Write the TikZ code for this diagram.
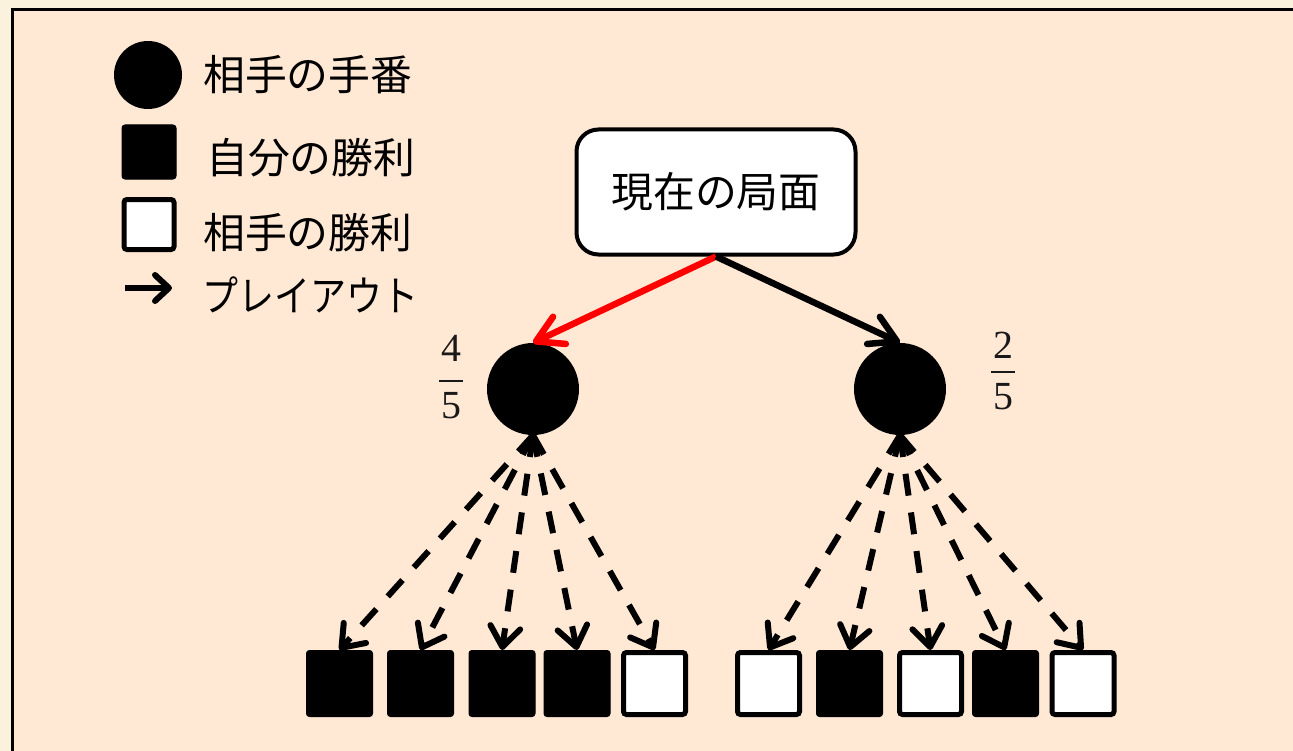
\documentclass[tikz,border=0pt]{standalone}
\usepackage{fontspec}
\usepackage{graphicx}
\newfontfamily\jp{Noto Sans CJK JP}
\newfontfamily\numfont{Liberation Serif}
\usetikzlibrary{arrows.meta}
\definecolor{bgout}{RGB}{251,242,222}
\definecolor{bgin}{RGB}{255,232,212}
\definecolor{arrred}{RGB}{255,0,0}
\tikzset{
  jptext/.style={font=\jp\fontsize{42}{50}\selectfont, inner sep=0pt},
  numtext/.style={font=\numfont\fontsize{40}{48}\selectfont, inner sep=0pt, text=black!90},
  turn/.style={circle, fill=black, minimum size=92bp, inner sep=0pt},
  winbox/.style={draw=black, fill=black, line width=1bp, minimum size=66bp, rounded corners=3bp, inner sep=0pt},
  losebox/.style={draw=black, fill=white, line width=5bp, minimum size=62bp, rounded corners=3bp, inner sep=0pt},
  rootbox/.style={draw=black, fill=white, line width=4bp, rounded corners=22bp, minimum width=279bp, minimum height=125bp, inner sep=0pt, font=\jp\fontsize{42}{50}\selectfont},
  playout/.style={line width=6bp, dash pattern=on 22bp off 17bp, -{Straight Barb[length=20bp,width=30bp,line cap=round,line join=round]}},
  move/.style={line width=6.5bp, -{Straight Barb[length=26bp,width=30bp,line cap=round,line join=round]}},
  legarrow/.style={line width=6bp, -{Straight Barb[length=14bp,width=26bp,line cap=round,line join=round]}},
}
\begin{document}
\begin{tikzpicture}[x=1bp,y=-1bp]
\useasboundingbox (0,0) rectangle (1293,751);
\fill[bgout] (0,0) rectangle (1293,751);
\draw[line width=3bp, fill=bgin] (12,10) rectangle (1320,780);

% legend
\node[turn, minimum size=68bp] (lgturn) at (148,75) {};
\node[winbox, minimum size=54bp] (lgwin) at (149,152) {};
\node[losebox, minimum size=50bp] (lglose) at (149,224.5) {};
\coordinate (la1) at (125,288);
\coordinate (la2) at (172,288);
\draw[legarrow] (la1) -- (la2);
\node[jptext, anchor=west] (t1) at (203,75) {相手の手番};
\node[jptext, anchor=west] (t2) at (206,158) {自分の勝利};
\node[jptext, anchor=west] (t3) at (203,233) {相手の勝利};
\node[jptext, anchor=west] (t4) at (202,295) {\scalebox{0.86}[1]{プレイアウト}};

% root
\node[rootbox] (root) at (716,192) {現在の局面};

% turn nodes
\node[turn] (lc) at (533,389) {};
\node[turn] (rc) at (900,389) {};

% fractions
\node[numtext] (n1) at (451,348) {4};
\node[numtext] (d1) at (451,406) {5};
\draw[line width=2.5bp, black!90] (439,381) -- (463,381);
\node[numtext] (n2) at (1003,345) {2};
\node[numtext] (d2) at (1003,397) {5};
\draw[line width=2.5bp, black!90] (991,372) -- (1015,372);

% root moves
\draw[move, draw=arrred] (root.south) -- (lc.north);
\draw[move] (root.south) -- (rc.north);

% leaves
\node[winbox] (l1) at (339.5,683.5) {};
\node[winbox] (l2) at (420.5,683.5) {};
\node[winbox] (l3) at (502,683.5) {};
\node[winbox] (l4) at (577,683.5) {};
\node[losebox] (l5) at (654.5,683.5) {};
\node[losebox] (r1) at (768.5,683.5) {};
\node[winbox] (r2) at (849.5,683.5) {};
\node[losebox] (r3) at (930.5,683.5) {};
\node[winbox] (r4) at (1005.5,683.5) {};
\node[losebox] (r5) at (1083,683.5) {};

\foreach \s in {l1,l2,l3,l4,l5} \draw[playout] (lc.south) -- (\s.north);
\foreach \s in {r1,r2,r3,r4,r5} \draw[playout] (rc.south) -- (\s.north);
\end{tikzpicture}
\end{document}
